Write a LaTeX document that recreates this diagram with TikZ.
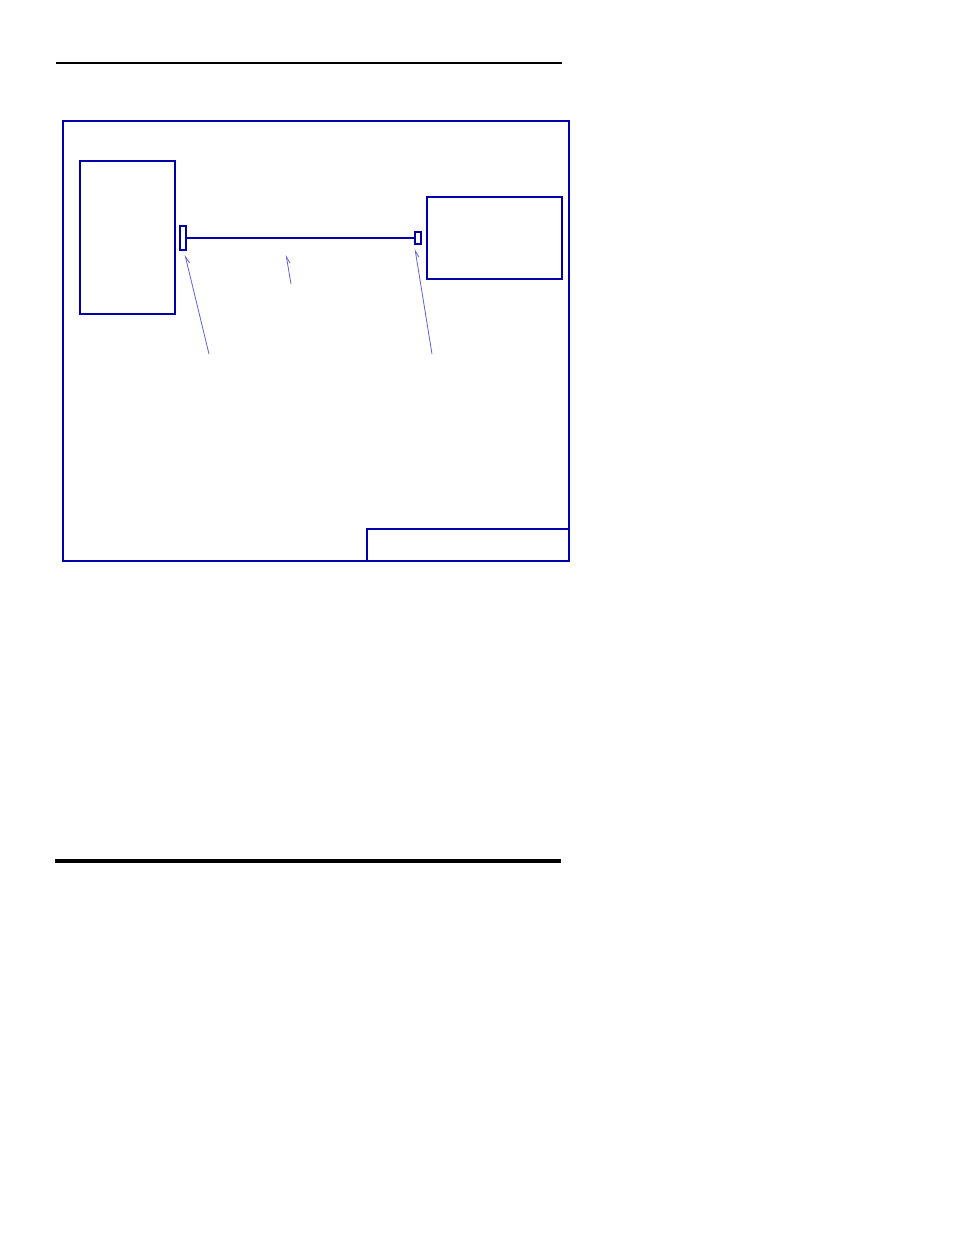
\documentclass[tikz,border=0pt]{standalone}
\usepackage{tikz}
\usetikzlibrary{arrows.meta}
\usetikzlibrary{calc,positioning}

\definecolor{frameblue}{RGB}{0,0,170}
\definecolor{leaderblue}{RGB}{95,95,220}

\begin{document}
\begin{tikzpicture}[x=0.75pt,y=-0.75pt,>=Stealth,
    box/.style={draw=frameblue, line width=0.85pt, inner sep=0pt, outer sep=0pt},
    leader/.style={draw=leaderblue, line width=0.6pt, -{Straight Barb[harpoon, swap, length=5pt, width=4pt]}},
    rule/.style={draw=black, line cap=butt}]
    \useasboundingbox (0,0) rectangle (954,1235);
    
    \draw[rule, line width=1.5pt] (56,63) -- (562,63);
    \draw[rule, line width=2.3pt] (55,861) -- (561,861);
    
    \node[box, minimum width=379.5pt, minimum height=330pt] (sheet) at (316,341) {};
    \node[box, minimum width=151.5pt, minimum height=24pt, anchor=south east] (titleblk) at (sheet.south east) {};
    
    \node[box, minimum width=71.25pt, minimum height=114.75pt] (host) at (127.5,237.5) {};
    \node[box, minimum width=101.25pt, minimum height=61.5pt] (device) at (494.5,238) {};
    
    \node[box, minimum width=4.5pt, minimum height=18pt] (plugL) at (183,238) {};
    \node[box, minimum width=4.5pt, minimum height=9pt] (plugR) at (418,238) {};
    \draw[frameblue, line width=0.85pt] (plugL.east) -- coordinate[pos=0.437] (cablept) (plugR.west);
    
    \coordinate (tagL) at (209,354);
    \coordinate (tagC) at (291,284);
    \coordinate (tagR) at (432,354);
    \draw[leader] (tagL) -- ($(plugL.south)+(2,5)$);
    \draw[leader] (tagC) -- ($(cablept)+(0,17)$);
    \draw[leader] (tagR) -- ($(plugR.south)+(-3,5)$);
    
\end{tikzpicture}
\end{document}
